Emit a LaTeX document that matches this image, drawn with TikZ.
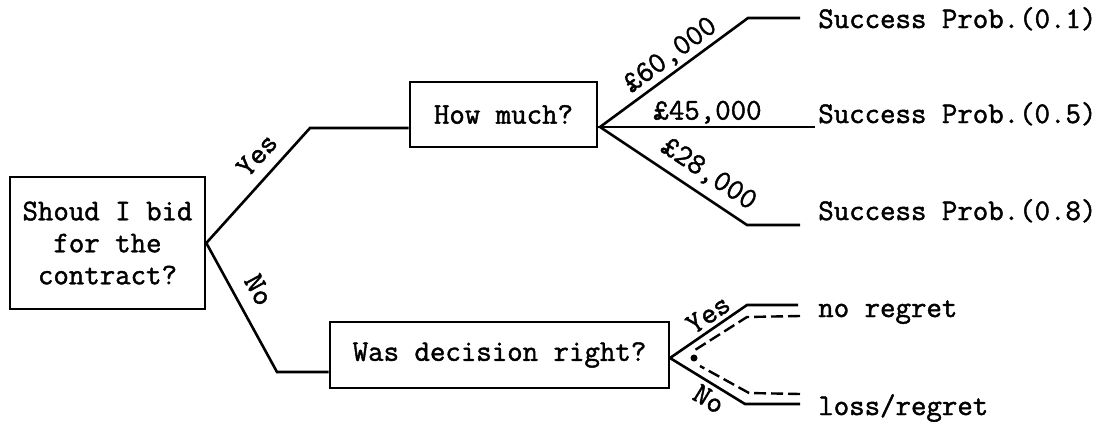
\documentclass[tikz,border=0pt]{standalone}
\usepackage{fontspec}
\newfontfamily\twfont{Latin Modern Mono}[FakeBold=1.5]
\begin{document}
\begin{tikzpicture}[x=1pt,y=-1pt,
  font=\twfont\fontsize{30}{32}\selectfont,
  line width=2.6pt,
  box/.style={draw, inner sep=0pt, align=center},
  outcome/.style={anchor=base west, inner sep=0pt},
  lbl/.style={inner sep=2pt, sloped},
  back/.style={dashed, dash pattern=on 12pt off 5pt, line width=2.4pt}]
\useasboundingbox (0,0) rectangle (1106,421);

% decision boxes
\node[box, minimum width=195pt, minimum height=132pt] (q1) at (107.5,243) {Shoud I bid\\for the\\contract?};
\node[box, minimum width=187pt, minimum height=65pt] (q2) at (503.5,114.5) {How much?};
\node[box, minimum width=339pt, minimum height=66pt] (q3) at (499.5,355) {Was decision right?};

% outcomes
\node[outcome] (s1) at (817,28) {Success Prob.(0.1)};
\node[outcome] (s2) at (817,123) {Success Prob.(0.5)};
\node[outcome] (s3) at (817,220) {Success Prob.(0.8)};
\node[outcome] (r1) at (817,317) {no regret};
\node[outcome] (r2) at (817,415) {loss/regret};

% bend points
\coordinate (y1) at (310,128);
\coordinate (n1) at (277,372);
\coordinate (j2) at (600,127);
\coordinate (a1) at (748,18);
\coordinate (a1e) at (800,18);
\coordinate (a2e) at (815,127);
\coordinate (a3) at (747,225);
\coordinate (a3e) at (800,225);
\coordinate (j3) at (670,358);
\coordinate (b1) at (747,305);
\coordinate (b1e) at (798,305);
\coordinate (b2) at (745,404);
\coordinate (b2e) at (800,404);
\coordinate (d1s) at (800,316);
\coordinate (d1) at (747,317);
\coordinate (d1t) at (695,350);
\coordinate (d2s) at (800,394);
\coordinate (d2) at (749,393);
\coordinate (d2t) at (700,366);
\coordinate (dot) at (694,358);

% first decision
\draw (q1.east) -- node[lbl, pos=0.64, above=9pt] {Yes} (y1) -- (y1 -| q2.west);
\draw (q1.east) -- node[lbl, pos=0.45, above=11pt] {No} (n1) -- (n1 -| q3.west);

% bid amounts
\draw (q2.east |- j2) -- (j2);
\draw (j2) -- node[lbl, pos=0.54, above=1pt] {£60,000} (a1) -- (a1e);
\draw (j2) -- node[lbl, pos=0.5, above=0pt] {£45,000} (a2e);
\draw (j2) -- node[lbl, pos=0.66, above=6pt] {£28,000} (a3) -- (a3e);

% regret branch
\draw (q3.east |- j3) -- (j3);
\draw (j3) -- node[lbl, pos=0.6, above=2pt] {Yes} (b1) -- (b1e);
\draw (j3) -- node[lbl, pos=0.62, below=2pt] {No} (b2) -- (b2e);
\draw[back] (d1s) -- (d1) -- (d1t);
\draw[back] (d2s) -- (d2) -- (d2t);
\fill (dot) circle (3.5pt);
\end{tikzpicture}
\end{document}
